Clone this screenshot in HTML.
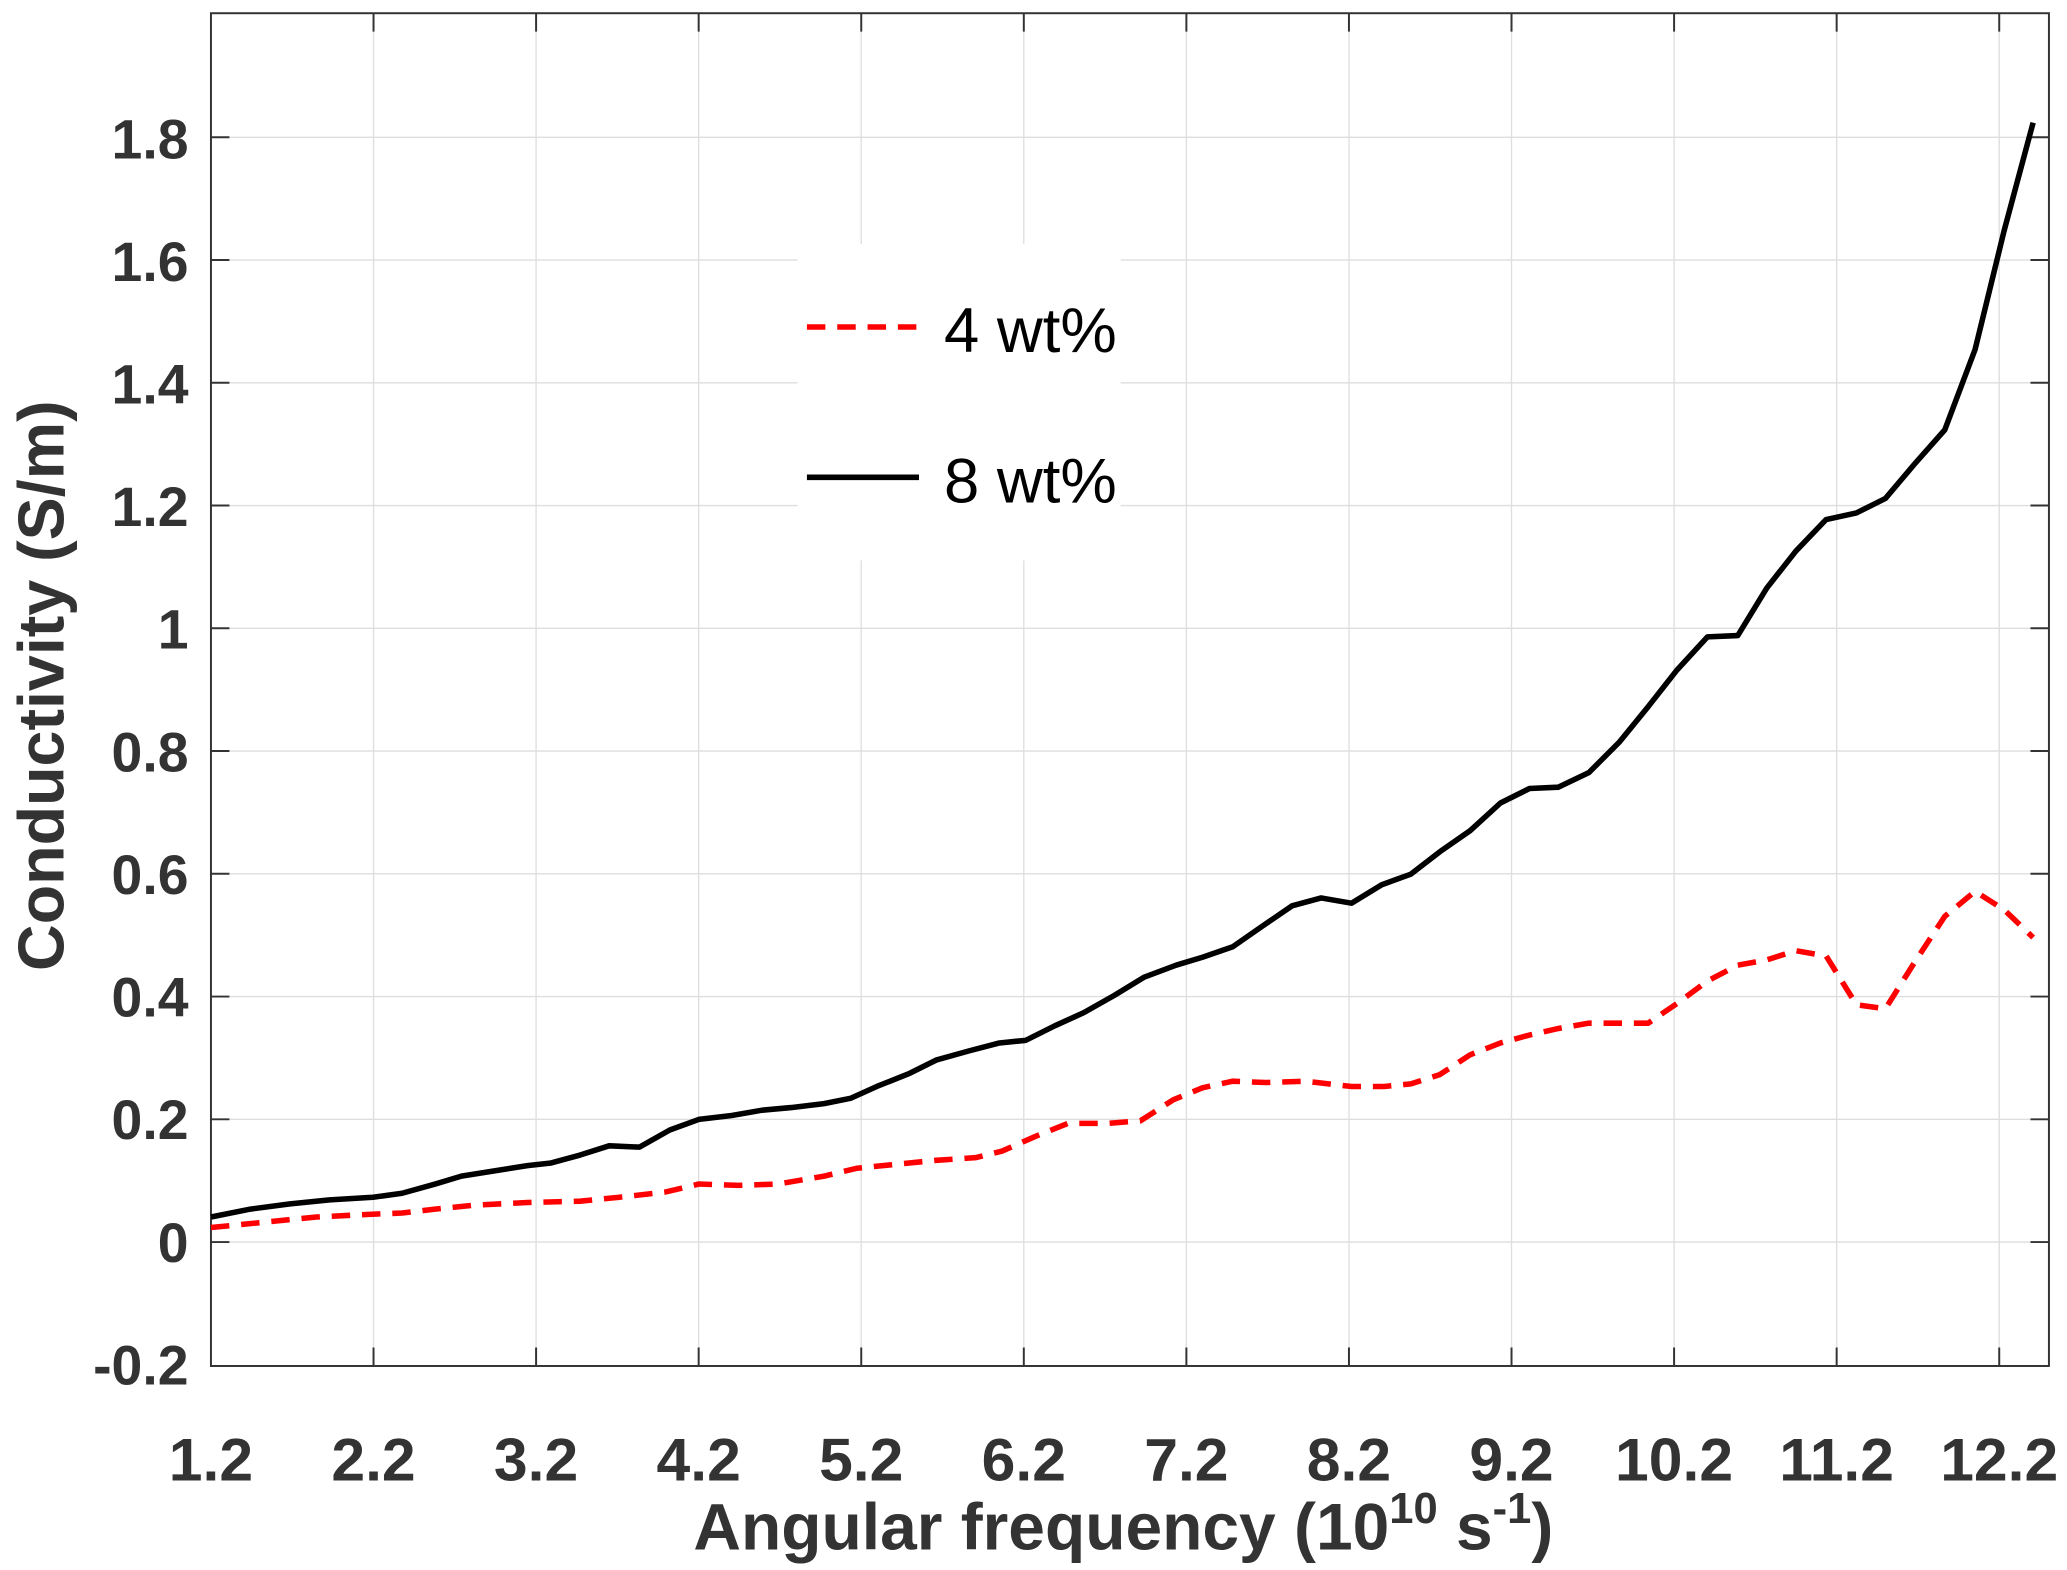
<!DOCTYPE html>
<html><head><meta charset="utf-8"><style>html,body{margin:0;padding:0;background:#fff}svg{display:block}</style></head>
<body>
<svg width="2067" height="1570" viewBox="0 0 1567.7 1190.7" xmlns="http://www.w3.org/2000/svg" font-family="Liberation Sans, Arial, sans-serif">
<rect width="1568" height="1191" fill="#fff"/>
<g stroke="#dedede" stroke-width="1">
<line x1="283.3" y1="10" x2="283.3" y2="1036"/><line x1="406.6" y1="10" x2="406.6" y2="1036"/><line x1="529.9" y1="10" x2="529.9" y2="1036"/><line x1="653.2" y1="10" x2="653.2" y2="1036"/><line x1="776.5" y1="10" x2="776.5" y2="1036"/><line x1="899.8" y1="10" x2="899.8" y2="1036"/><line x1="1023.1" y1="10" x2="1023.1" y2="1036"/><line x1="1146.4" y1="10" x2="1146.4" y2="1036"/><line x1="1269.7" y1="10" x2="1269.7" y2="1036"/><line x1="1393" y1="10" x2="1393" y2="1036"/><line x1="1516.3" y1="10" x2="1516.3" y2="1036"/>
<line x1="160" y1="942" x2="1554" y2="942"/><line x1="160" y1="848.9" x2="1554" y2="848.9"/><line x1="160" y1="755.8" x2="1554" y2="755.8"/><line x1="160" y1="662.7" x2="1554" y2="662.7"/><line x1="160" y1="569.6" x2="1554" y2="569.6"/><line x1="160" y1="476.5" x2="1554" y2="476.5"/><line x1="160" y1="383.4" x2="1554" y2="383.4"/><line x1="160" y1="290.3" x2="1554" y2="290.3"/><line x1="160" y1="197.2" x2="1554" y2="197.2"/><line x1="160" y1="104.1" x2="1554" y2="104.1"/>
</g>
<g stroke="#333" stroke-width="1.5" fill="none">
<rect x="160" y="10" width="1394" height="1026"/>
<path d="M283.3 1036v-14M406.6 1036v-14M529.9 1036v-14M653.2 1036v-14M776.5 1036v-14M899.8 1036v-14M1023.1 1036v-14M1146.4 1036v-14M1269.7 1036v-14M1393 1036v-14M1516.3 1036v-14
M283.3 10v14M406.6 10v14M529.9 10v14M653.2 10v14M776.5 10v14M899.8 10v14M1023.1 10v14M1146.4 10v14M1269.7 10v14M1393 10v14M1516.3 10v14
M160 942h14M160 848.9h14M160 755.8h14M160 662.7h14M160 569.6h14M160 476.5h14M160 383.4h14M160 290.3h14M160 197.2h14M160 104.1h14
M1554 942h-14M1554 848.9h-14M1554 755.8h-14M1554 662.7h-14M1554 569.6h-14M1554 476.5h-14M1554 383.4h-14M1554 290.3h-14M1554 197.2h-14M1554 104.1h-14"/>
</g>
<polyline fill="none" stroke="#f00" stroke-width="4.2" stroke-dasharray="14,9" points="160,931 200,927 240,923 280,921 305,920 330,917 360,914 400,912 440,911 470,908 505,904 530,898 560,899 590,898 625,892 650,886 680,883 710,880 740,878 760,873 785,862 810,852 840,852 865,850 890,834 912,825 935,820 960,821 990,820 1025,824 1050,824 1070,822 1092,815 1115,800 1138,791 1160,785 1182,780 1205,776 1228,776 1250,776 1272,761 1295,744 1318,732 1340,728 1362,721 1385,725 1408,762 1430,765 1452,730 1475,695 1498,676 1520,690 1542,711"/>
<polyline fill="none" stroke="#000" stroke-width="4.2" stroke-linejoin="round" points="160,923 190,917 220,913 250,910 283,908 305,905 330,898 350,892 375,888 400,884 418,882 440,876 462,869 485,870 508,857 530,849 555,846 578,842 600,840 625,837 645,833 665,824 690,814 710,804 735,797 758,791 778,789 800,778 822,768 845,755 868,741 892,732 912,726 935,718 958,702 980,687 1002,681 1025,685 1048,671 1070,663 1092,646 1115,630 1138,609 1160,598 1182,597 1205,586 1228,563 1250,536 1272,508 1295,483 1318,482 1340,446 1362,418 1385,394 1408,389 1430,378 1452,352 1475,326 1498,265 1520,175 1542,93"/>
<rect x="605" y="185" width="245" height="240" fill="#fff"/>
<line x1="612" y1="248" x2="697" y2="248" stroke="#f00" stroke-width="4.2" stroke-dasharray="14,9"/>
<line x1="612" y1="362" x2="697" y2="362" stroke="#000" stroke-width="4.2"/>
<text x="716" y="267" font-size="48" fill="#000" textLength="131" lengthAdjust="spacingAndGlyphs">4 wt%</text>
<text x="716" y="381" font-size="48" fill="#000" textLength="131" lengthAdjust="spacingAndGlyphs">8 wt%</text>
<g font-size="42" font-weight="bold" fill="#333" text-anchor="end">
<text x="143" y="1050">-0.2</text><text x="143" y="957">0</text><text x="143" y="864">0.2</text><text x="143" y="771">0.4</text><text x="143" y="678">0.6</text><text x="143" y="585">0.8</text><text x="143" y="492">1</text><text x="143" y="399">1.2</text><text x="143" y="306">1.4</text><text x="143" y="213">1.6</text><text x="143" y="120">1.8</text>
</g>
<g font-size="46" font-weight="bold" fill="#333" text-anchor="middle">
<text x="160" y="1123">1.2</text><text x="283.3" y="1123">2.2</text><text x="406.6" y="1123">3.2</text><text x="529.9" y="1123">4.2</text><text x="653.2" y="1123">5.2</text><text x="776.5" y="1123">6.2</text><text x="899.8" y="1123">7.2</text><text x="1023.1" y="1123">8.2</text><text x="1146.4" y="1123">9.2</text><text x="1269.7" y="1123">10.2</text><text x="1393" y="1123">11.2</text><text x="1516.3" y="1123">12.2</text>
<text x="852" y="1175" font-size="50">Angular frequency (10<tspan font-size="33" dy="-20">10</tspan><tspan dy="20"> s</tspan><tspan font-size="33" dy="-20">-1</tspan><tspan dy="20">)</tspan></text>
<text transform="translate(48,520) rotate(-90)" font-size="49">Conductivity (S/m)</text>
</g>
</svg>
</body></html>
